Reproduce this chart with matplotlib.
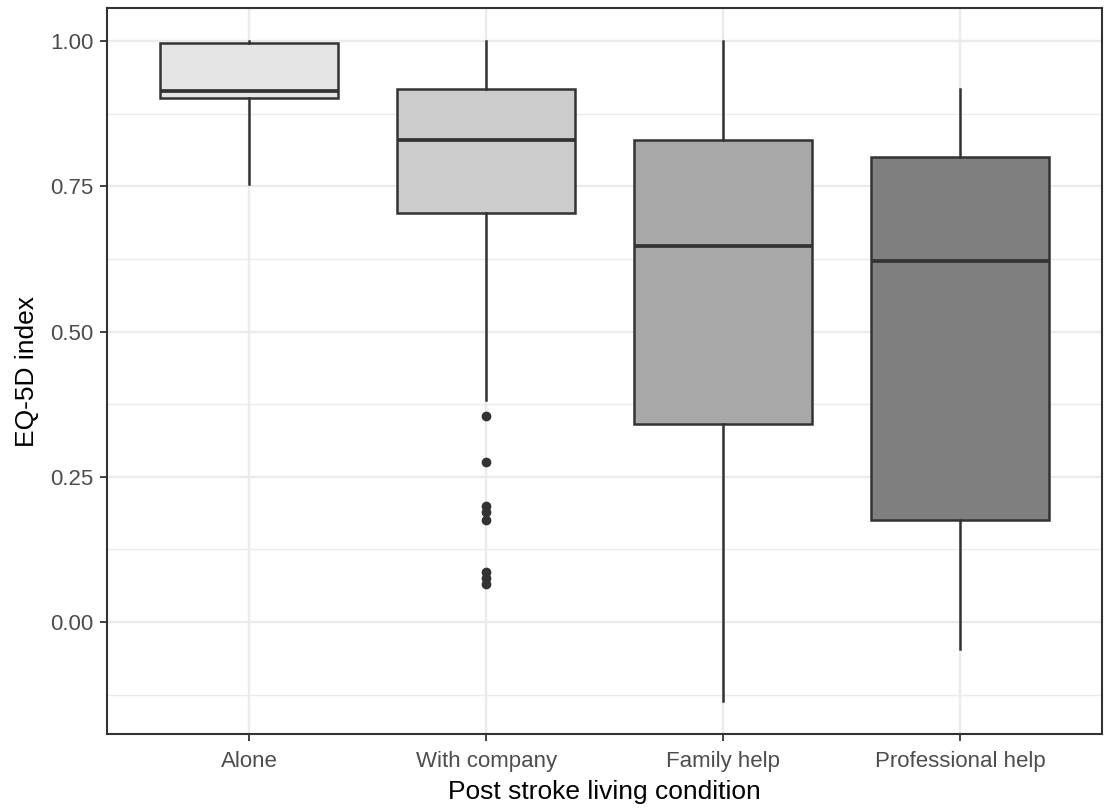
import matplotlib
matplotlib.use("Agg")
import matplotlib.pyplot as plt
from matplotlib.ticker import MultipleLocator

# データ
categories = ["Alone", "With company", "Family help", "Professional help"]
q1 = [0.902, 0.704, 0.341, 0.176]
med = [0.914, 0.830, 0.647, 0.621]
q3 = [0.997, 0.917, 0.830, 0.800]
whislo = [0.754, 0.382, -0.136, -0.046]
whishi = [1.000, 1.000, 1.000, 0.917]
outliers = [
    [],
    [0.355, 0.275, 0.199, 0.189, 0.176, 0.086, 0.076, 0.065],
    [],
    [],
]
fills = ["#E5E5E5", "#CCCCCC", "#A8A8A8", "#7F7F7F"]

plt.rcParams['font.family'] = ['Liberation Sans', 'DejaVu Sans']

fig = plt.figure(figsize=(11.07, 8.11), dpi=100)
ax = fig.add_axes([0.0967, 0.0949, 0.8988, 0.8952])

stats = []
for i, name in enumerate(categories):
    stats.append(dict(label=name, q1=q1[i], med=med[i], q3=q3[i],
                      whislo=whislo[i], whishi=whishi[i], fliers=outliers[i]))

positions = list(range(1, len(categories) + 1))
bp = ax.bxp(stats, positions=positions, widths=0.75, patch_artist=True,
            showcaps=False,
            boxprops=dict(edgecolor="#333333", linewidth=1.8),
            medianprops=dict(color="#333333", linewidth=2.7),
            whiskerprops=dict(color="#333333", linewidth=1.8),
            flierprops=dict(marker="o", markerfacecolor="#333333",
                            markeredgecolor="#333333", markersize=6))
for patch, c in zip(bp["boxes"], fills):
    patch.set_facecolor(c)

ax.set_xlim(0.4, 4.6)
ax.set_ylim(-0.1928, 1.0568)
ax.yaxis.set_major_locator(MultipleLocator(0.25))
ax.yaxis.set_minor_locator(MultipleLocator(0.125))
ax.set_yticks([0.0, 0.25, 0.5, 0.75, 1.0])
ax.set_yticklabels(["0.00", "0.25", "0.50", "0.75", "1.00"])

# theme_bw 風のグリッド
ax.set_axisbelow(True)
ax.grid(True, which="major", color="#EBEBEB", linewidth=1.7)
ax.grid(True, which="minor", axis="y", color="#EBEBEB", linewidth=1.0)
for s in ax.spines.values():
    s.set_color("#333333")
    s.set_linewidth(1.5)

ax.tick_params(axis="both", which="major", colors="#333333", labelcolor="#4D4D4D",
               labelsize=16, length=5, width=1.3)
ax.tick_params(axis="x", which="major", pad=7)
ax.tick_params(axis="y", which="major", pad=5)
ax.tick_params(axis="y", which="minor", length=0)
ax.set_xlabel("Post stroke living condition", fontsize=19, color="black", labelpad=6)
ax.set_ylabel("EQ-5D index", fontsize=19, color="black", labelpad=8)

fig.savefig("out.png", dpi=100, facecolor="white")
